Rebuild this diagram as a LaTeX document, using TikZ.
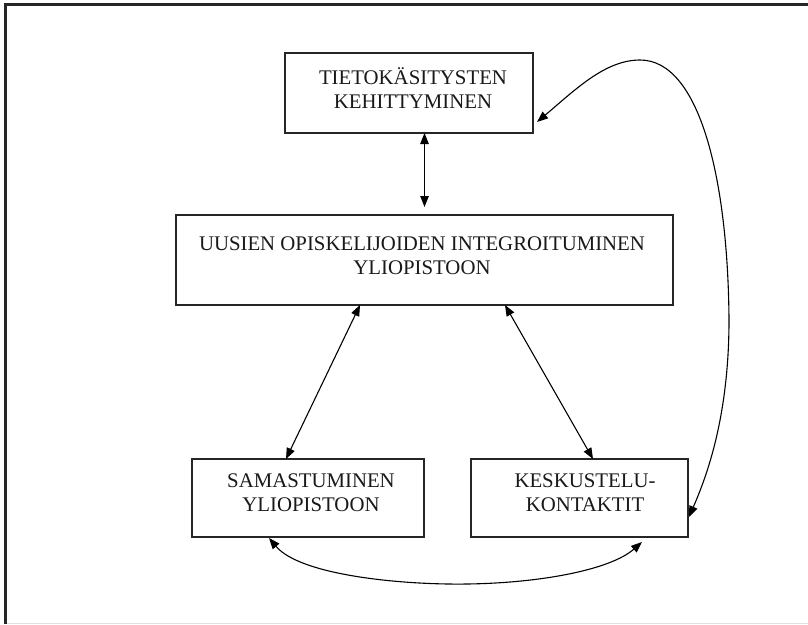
\documentclass[tikz,border=0pt]{standalone}
\usepackage{fontspec}
\setmainfont{Liberation Serif}
\usetikzlibrary{arrows.meta}
\begin{document}
\begin{tikzpicture}[x=1pt,y=-1pt,
  boxnode/.style={draw=black!85, line width=1.4pt, inner sep=0pt, outer sep=0pt},
  txt/.style={align=center, inner sep=0pt, text=black!90, font=\fontsize{20.8}{24}\selectfont},
  link/.style={line width=1.1pt, {Triangle[length=11pt,width=8.5pt]}-{Triangle[length=11pt,width=8.5pt]}},
  ]
\useasboundingbox (0,0) rectangle (808,624);
\fill[white] (0,0) rectangle (808,624);
\draw[gray!25, line width=1pt] (5,623.5) -- (808,623.5);
\draw[line width=3pt, black!85] (5,624) -- (5,4) -- (808,4);

\node[boxnode, minimum width=248pt, minimum height=80pt] (b1) at (409,93) {};
\node[txt] (t1) at (413,88) {TIETOKÄSITYSTEN\\KEHITTYMINEN};
\node[boxnode, minimum width=497pt, minimum height=90pt] (main) at (424.5,260) {};
\node[txt] (t2) at (422,255.5) {UUSIEN OPISKELIJOIDEN INTEGROITUMINEN\\YLIOPISTOON};
\node[boxnode, minimum width=232pt, minimum height=78pt] (sam) at (308,498) {};
\node[txt] (t3) at (311,493) {SAMASTUMINEN\\YLIOPISTOON};
\node[boxnode, minimum width=217pt, minimum height=78pt] (kes) at (579.5,498) {};
\node[txt] (t4) at (585,493) {KESKUSTELU-\\KONTAKTIT};

\draw[link, shorten >=8pt] (main.north |- b1.south) -- (main.north);
\draw[link] ([xshift=184pt]main.south west) -- ([xshift=94pt]sam.north west);
\draw[link] ([xshift=329pt]main.south west) -- ([xshift=122pt]kes.north west);
\draw[link] ([xshift=4pt,yshift=-29pt]b1.east) .. controls (575,90) and (605,60) .. (640,60)
  .. controls (700,60) and (728,180) .. (729,320)
  .. controls (729,420) and (705,480) .. ([xshift=1pt,yshift=-19pt]kes.east);
\draw[link] ([xshift=-39pt,yshift=-1pt]sam.south) .. controls (300,575) and (400,585) .. (467,584)
  .. controls (540,583) and (610,570) .. ([xshift=62.5pt,yshift=-5pt]kes.south);
\end{tikzpicture}
\end{document}
